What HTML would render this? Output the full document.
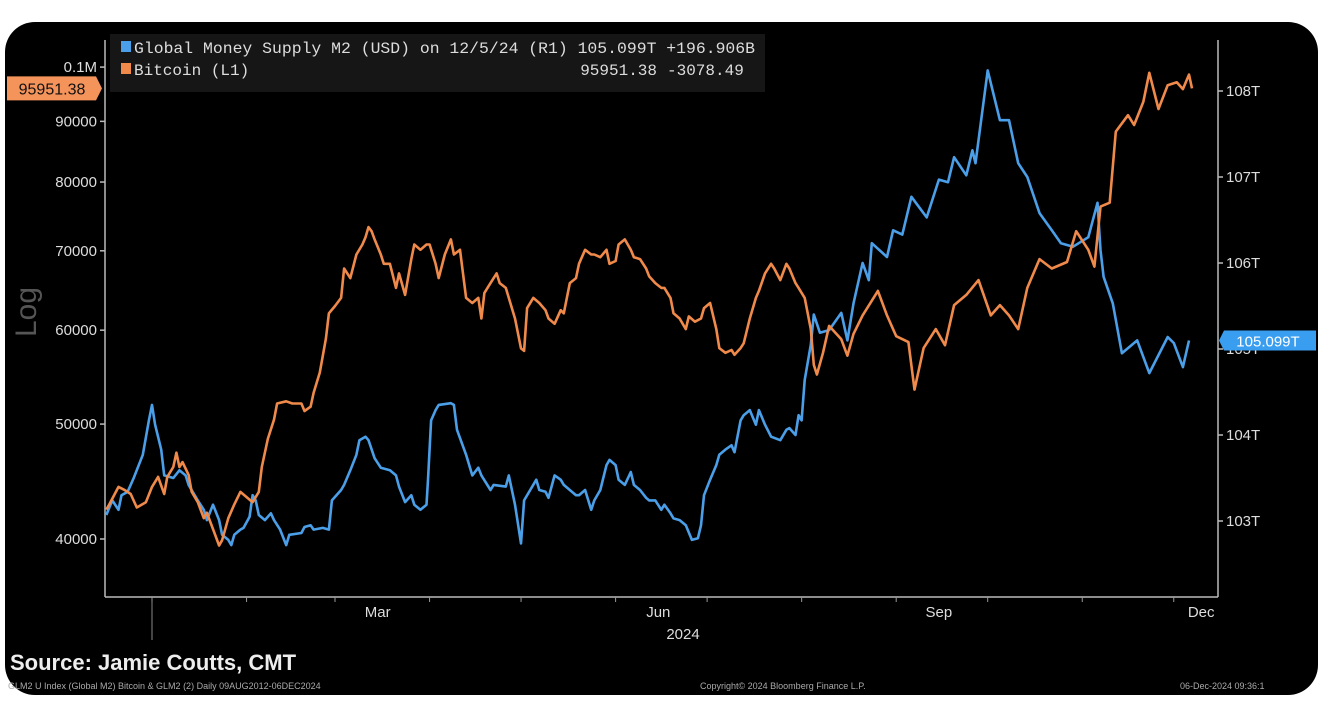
<!DOCTYPE html>
<html><head><meta charset="utf-8">
<style>
html,body{margin:0;padding:0;background:#fff;width:1330px;height:710px;overflow:hidden}
svg{display:block}
text{font-family:"Liberation Sans",sans-serif}
.mono{font-family:"Liberation Mono",monospace;white-space:pre}
</style></head>
<body>
<svg id="chart" width="1330" height="710">
  <rect x="5" y="22" width="1313" height="673" rx="30" fill="#000"/>
  <text x="36" y="312" fill="#555" font-size="30" transform="rotate(-90 36 312)" text-anchor="middle">Log</text>
  <g id="axes"></g>
  <g id="series"></g>
  <rect x="110" y="34" width="655" height="58" fill="#161616"/>
  <rect x="121" y="41" width="10" height="11" fill="#4a9fe8"/>
  <text x="134" y="53" fill="#ddd" font-size="16" class="mono" textLength="621" lengthAdjust="spacingAndGlyphs" xml:space="preserve">Global Money Supply M2 (USD) on 12/5/24 (R1) 105.099T +196.906B</text>
  <rect x="121" y="63" width="10" height="11" fill="#f08a4b"/>
  <text x="134" y="75" fill="#ddd" font-size="16" class="mono" xml:space="preserve">Bitcoin (L1)</text>
  <text x="657" y="75" fill="#ddd" font-size="16" class="mono" text-anchor="end">95951.38</text>
  <text x="667" y="75" fill="#ddd" font-size="16" class="mono">-3078.49</text>
  <text x="10" y="670" fill="#eee" font-size="22" font-weight="bold">Source: Jamie Coutts, CMT</text>
  <text x="8" y="689" fill="#aaa" font-size="9">GLM2 U Index (Global M2) Bitcoin &amp; GLM2 (2)  Daily 09AUG2012-06DEC2024</text>
  <text x="700" y="689" fill="#aaa" font-size="9">Copyright© 2024 Bloomberg Finance L.P.</text>
  <text x="1180" y="689" fill="#aaa" font-size="9">06-Dec-2024 09:36:1</text>
</svg>
<script>
const btcDays=[-15,-14,-11,-9,-7,-5,-2,0,2,4,5,7,8,9,10,12,13,15,17,18,20,22,23,25,27,29,31,33,35,36,38,40,41,44,46,49,50,52,53,55,57,58,60,62,63,65,67,69,70,71,72,73,75,76,78,80,81,83,85,86,88,90,91,93,94,96,98,99,101,103,105,107,108,109,111,113,114,116,117,119,121,122,123,125,127,129,130,132,134,135,137,139,140,142,144,145,147,149,150,152,153,155,157,158,160,162,163,165,167,168,170,171,173,175,176,178,180,181,183,185,186,188,190,191,193,194,196,198,199,201,203,204,206,208,209,211,212,214,216,217,218,220,222,226,228,230,233,238,241,244,248,250,253,257,260,263,267,271,275,278,281,284,287,291,295,300,303,307,309,311,314,316,320,322,325,327,330,333,336,338,340,341];
const btcValues=[42350,42780,44260,44000,43650,42520,42960,44260,45130,43650,45130,46000,47300,46000,46440,45300,43830,42960,41650,42090,40780,39500,39910,41650,42780,43830,43390,42960,43830,46000,48610,50430,52040,52260,52040,52040,51290,51720,53120,55270,59030,62000,62880,63880,67630,66380,69500,70860,71860,73290,72720,71570,69500,68250,68250,65130,67000,64250,68880,70860,70140,70860,70860,68250,66380,69500,71570,69500,70140,63880,63250,63880,61380,64500,65750,67000,65750,65130,63880,61380,57910,57630,62630,63880,63250,62380,61380,60750,62380,62000,65750,66380,68250,70140,69500,69500,69130,70140,68250,68630,70860,71570,70140,69130,68880,67630,66630,65750,65130,65130,63880,62000,61380,60130,61630,61000,61380,62630,63250,60130,57950,57420,57740,57200,57950,58490,61380,63880,64750,67000,68250,67630,66130,68250,67630,65750,65130,63880,60130,56100,55050,57420,60500,58950,57100,59570,61750,64750,61750,59300,58630,53460,57950,60130,58280,63000,64250,66130,61750,63000,61750,60130,65130,68880,67630,68500,72720,70140,67880,76280,76860,88230,91090,89360,93460,98910,92180,96550,97090,95820,98550,95951];
const m2Days=[-15,-13,-11,-10,-8,-6,-3,-1,0,1,3,4,7,9,11,12,15,17,18,20,22,23,25,26,27,29,30,32,33,34,35,37,39,40,42,44,45,49,50,52,53,56,58,59,62,63,65,67,68,70,71,73,75,78,80,81,83,85,86,88,90,90.5,91.5,93,94,98,99,100,103,105,107,108,111,112,116,117,119,121,122,124,126,127,129,130,132,134,135,137,139,140,142,144,145,147,149,150,152,153,155,157,158,160,162,163,165,167,168,170,171,173,175,177,179,180,181,183,185,186,188,190,191,193,194,196,198,199,201,203,206,208,209,211,212,213,214,216,217,219,222,226,228,230,233,235,236,241,243,246,249,254,258,261,263,267,269,270,274,278,281,284,287,291,295,298,302,307,310,311,312,315,318,323,327,333,335,338,340];
const m2Values=[103.07,103.24,103.13,103.30,103.34,103.50,103.77,104.17,104.35,104.12,103.83,103.53,103.50,103.59,103.53,103.42,103.24,103.13,103.01,103.19,103.01,102.84,102.78,102.72,102.84,102.90,102.92,103.05,103.30,103.24,103.07,103.01,103.09,103.01,102.90,102.72,102.84,102.86,102.93,102.95,102.90,102.92,102.90,103.24,103.36,103.42,103.59,103.77,103.94,103.98,103.94,103.73,103.62,103.59,103.53,103.40,103.22,103.30,103.19,103.13,103.19,103.48,104.17,104.29,104.35,104.37,104.35,104.06,103.77,103.53,103.62,103.53,103.36,103.42,103.40,103.53,103.19,102.74,103.24,103.36,103.48,103.36,103.34,103.27,103.53,103.48,103.42,103.36,103.30,103.30,103.36,103.13,103.24,103.36,103.65,103.71,103.65,103.48,103.42,103.57,103.42,103.36,103.27,103.24,103.24,103.13,103.19,103.09,103.03,103.01,102.95,102.78,102.80,102.95,103.30,103.48,103.65,103.77,103.83,103.88,103.80,104.17,104.23,104.29,104.12,104.29,104.12,103.98,103.94,104.06,104.08,104.00,104.23,104.17,104.64,105.05,105.40,105.19,105.22,105.42,105.10,105.53,106.00,105.80,106.23,106.07,106.38,106.33,106.77,106.53,106.97,106.94,107.23,107.02,107.31,107.16,108.24,107.66,107.66,107.16,107.00,106.58,106.38,106.23,106.19,106.30,106.70,106.15,105.84,105.53,104.95,105.10,104.72,105.14,105.07,104.79,105.099];
const leftTicks=[40000,50000,60000,70000,80000,90000,100000];
const leftTickLabels=["40000","50000","60000","70000","80000","90000","0.1M"];
const rightTicks=[103,104,105,106,107,108];
const rightTickLabels=["103T","104T","105T","106T","107T","108T"];
const monthStarts=[0,31,60,91,121,152,182,213,244,274,305,335];
const monthLabelDays=[74,166,258,344];
const monthLabels=["Mar","Jun","Sep","Dec"];
const lastBtc=95951.38, lastM2=105.099;

const NS="http://www.w3.org/2000/svg";
const PL=105,PR=1218,PT=40,PB=597;
const xS=d=>152+d*3.05;
const yL=v=>539-515*Math.log(v/40000);
const yR=v=>521-(v-103)*86;
function mk(tag,attrs,parent,txt){const e=document.createElementNS(NS,tag);for(const k in attrs)e.setAttribute(k,attrs[k]);if(txt!==undefined)e.textContent=txt;parent.appendChild(e);return e;}
const ax=document.getElementById('axes'), se=document.getElementById('series');

let e=mk('line',{x1:PL,y1:PT,x2:PL,y2:PB,stroke:'#bbb','stroke-width':1.5},ax);


e=mk('line',{x1:PR,y1:PT,x2:PR,y2:PB,stroke:'#bbb','stroke-width':1.5},ax);


e=mk('line',{x1:PL,y1:PB,x2:PR,y2:PB,stroke:'#bbb','stroke-width':1.5},ax);


e=mk('line',{x1:xS(0),y1:PB,x2:xS(0),y2:640,stroke:'#888','stroke-width':1},ax);



leftTicks.forEach((v,i)=>{const y=yL(v);
  mk('line',{x1:PL-5,y1:y,x2:PL,y2:y,stroke:'#bbb','stroke-width':1.5},ax);
  const t=mk('text',{x:PL-8,y:y+5,fill:'#ddd','font-size':15,'text-anchor':'end'},ax,leftTickLabels[i]);
  
  
});
rightTicks.forEach((v,i)=>{const y=yR(v);
  mk('line',{x1:PR,y1:y,x2:PR+5,y2:y,stroke:'#bbb','stroke-width':1.5},ax);
  const t=mk('text',{x:PR+8,y:y+5,fill:'#ddd','font-size':15},ax,rightTickLabels[i]);
  
  
});
monthStarts.forEach(d=>{mk('line',{x1:xS(d),y1:PB,x2:xS(d),y2:PB+5,stroke:'#999','stroke-width':1},ax);});
monthLabels.forEach((m,i)=>{
  const t=mk('text',{x:xS(monthLabelDays[i]),y:617,fill:'#ddd','font-size':15,'text-anchor':'middle'},ax,m);
  
  
});
e=mk('text',{x:683,y:639,fill:'#ddd','font-size':15,'text-anchor':'middle'},ax,'2024');



function path(xs,vs,ys){return xs.map((d,i)=>(i?'L':'M')+xS(d).toFixed(1)+','+ys(vs[i]).toFixed(1)).join('');}
e=mk('path',{d:path(m2Days,m2Values,yR),fill:'none',stroke:'#4a9fe8','stroke-width':2.6,'stroke-linejoin':'round'},se);


e=mk('path',{d:path(btcDays,btcValues,yL),fill:'none',stroke:'#f08a4b','stroke-width':2.6,'stroke-linejoin':'round'},se);



let yb=yL(lastBtc);
e=mk('path',{d:`M7,${yb-12}H96L102,${yb}L96,${yb+12}H7Z`,fill:'#f4935a'},ax);


mk('text',{x:52,y:yb+6,fill:'#111','font-size':16,'text-anchor':'middle'},ax,lastBtc.toFixed(2));
let ym=yR(lastM2);
e=mk('path',{d:`M1224,${ym-10}H1316V${ym+10}H1224L1219,${ym}Z`,fill:'#3a9ef0'},ax);


mk('text',{x:1268,y:ym+6,fill:'#fff','font-size':15,'text-anchor':'middle'},ax,lastM2.toFixed(3)+'T');
</script>
</body></html>
